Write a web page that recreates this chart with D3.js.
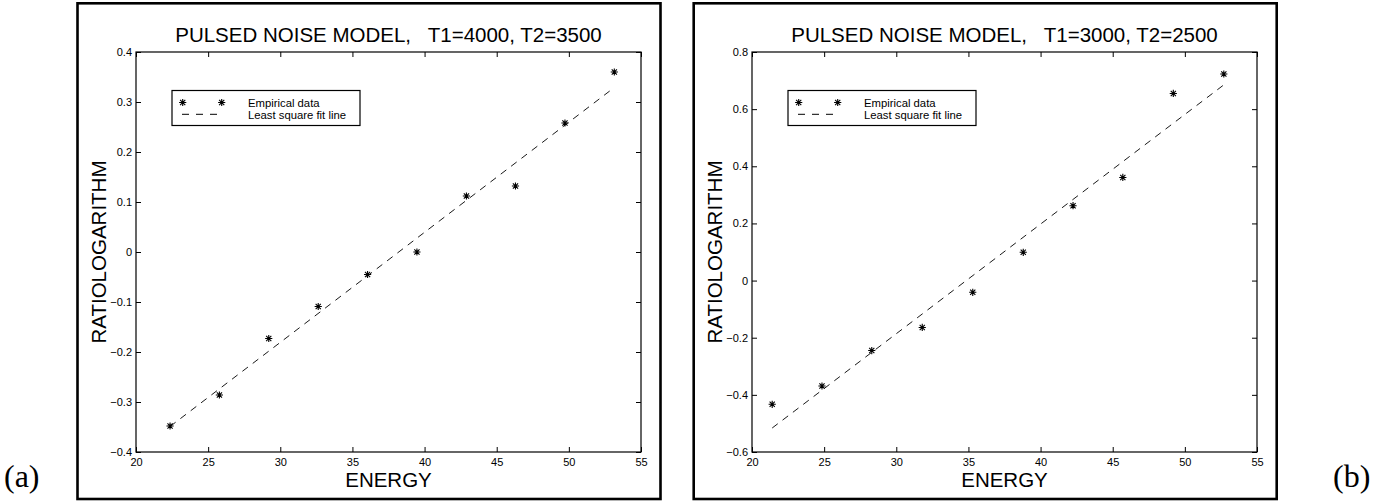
<!DOCTYPE html>
<html>
<head>
<meta charset="utf-8">
<script src="https://cdn.jsdelivr.net/npm/d3@7"></script>
<style>
  html, body { margin: 0; padding: 0; background: #fff; }
  svg { display: block; }
  text { font-family: "Liberation Sans", Arial, sans-serif; fill: #000; white-space: pre; }
  text.tag { font-family: "Liberation Serif", "DejaVu Serif", serif; }
</style>
</head>
<body>
<svg id="chart" width="1378" height="504"></svg>
<script>
// ---------- data ----------
const energyA = [22.36, 25.78, 29.2, 32.63, 36.05, 39.47, 42.9, 46.3, 49.73, 53.15];
const ratioA  = [-0.348, -0.286, -0.173, -0.109, -0.045, 0.0, 0.112, 0.132, 0.258, 0.36];
const fitEnergyA = [22.36, 53.15];
const fitRatioA  = [-0.349, 0.329];

const energyB = [21.4, 24.85, 28.3, 31.8, 35.3, 38.8, 42.25, 45.7, 49.2, 52.7];
const ratioB  = [-0.433, -0.369, -0.245, -0.164, -0.041, 0.099, 0.262, 0.361, 0.655, 0.723];
const fitEnergyB = [21.4, 52.7];
const fitRatioB  = [-0.516, 0.685];

const xTicks  = [20, 25, 30, 35, 40, 45, 50, 55];
const yTicksA = [-0.4, -0.3, -0.2, -0.1, 0, 0.1, 0.2, 0.3, 0.4];
const yTicksB = [-0.6, -0.4, -0.2, 0, 0.2, 0.4, 0.6, 0.8];

const titles = ["PULSED NOISE MODEL,   T1=4000, T2=3500", "PULSED NOISE MODEL,   T1=3000, T2=2500"];
const panelTags = ["(a)", "(b)"];
const xLabel = "ENERGY";
const yLabel = "RATIOLOGARITHM";
const legendLabels = ["Empirical data", "Least square fit line"];

// ---------- drawing ----------
const svg = d3.select("#chart");

const panels = [
  { left: 136, frameX: 77.5, energy: energyA, ratio: ratioA, fx: fitEnergyA, fy: fitRatioA,
    yDomain: [-0.4, 0.4], yTicks: yTicksA, title: titles[0], tag: panelTags[0], tagX: 4 },
  { left: 752, frameX: 693.7, energy: energyB, ratio: ratioB, fx: fitEnergyB, fy: fitRatioB,
    yDomain: [-0.6, 0.8], yTicks: yTicksB, title: titles[1], tag: panelTags[1], tagX: 1333 }
];

const W = 505, plotTop = 52, plotBottom = 452;
const fmt = d => d === 0 ? "0" : d3.format(".1f")(d);

function starPath(r) {
  const p = d3.path();
  const d = r * 0.72;
  p.moveTo(-r, 0); p.lineTo(r, 0);
  p.moveTo(0, -r); p.lineTo(0, r);
  p.moveTo(-d, -d); p.lineTo(d, d);
  p.moveTo(-d, d); p.lineTo(d, -d);
  return p.toString();
}
const star = starPath(3.6);

panels.forEach(P => {
  const g = svg.append("g");
  // outer frame
  g.append("rect")
    .attr("x", P.frameX).attr("y", 3.3)
    .attr("width", 583).attr("height", 495.7)
    .attr("fill", "none").attr("stroke", "#000").attr("stroke-width", 2.6);

  const x = d3.scaleLinear().domain([20, 55]).range([P.left, P.left + W]);
  const y = d3.scaleLinear().domain(P.yDomain).range([plotBottom, plotTop]);

  // axes (inward ticks)
  const ax = g.append("g").attr("transform", `translate(0,${plotBottom})`)
    .call(d3.axisBottom(x).tickValues(xTicks).tickSizeInner(-5).tickSizeOuter(0).tickPadding(6).tickFormat(d3.format("d")));
  const axT = g.append("g").attr("transform", `translate(0,${plotTop})`)
    .call(d3.axisTop(x).tickValues(xTicks).tickSizeInner(-5).tickSizeOuter(0).tickFormat(""));
  const ay = g.append("g").attr("transform", `translate(${P.left},0)`)
    .call(d3.axisLeft(y).tickValues(P.yTicks).tickSizeInner(-5).tickSizeOuter(0).tickPadding(4).tickFormat(fmt));
  const ayR = g.append("g").attr("transform", `translate(${P.left + W},0)`)
    .call(d3.axisRight(y).tickValues(P.yTicks).tickSizeInner(-5).tickSizeOuter(0).tickFormat(""));
  [ax, axT, ay, ayR].forEach(a => {
    a.select(".domain").remove();
    a.selectAll("line").attr("stroke", "#000").attr("stroke-width", 1);
    a.selectAll("text").attr("font-size", 11).attr("fill", "#000");
  });

  // plot box
  g.append("rect")
    .attr("x", P.left).attr("y", plotTop).attr("width", W).attr("height", plotBottom - plotTop)
    .attr("fill", "none").attr("stroke", "#000").attr("stroke-width", 1.2);

  // fit line
  const fitPts = P.fx.map((v, i) => [v, P.fy[i]]);
  g.append("path")
    .attr("d", d3.line().x(d => x(d[0])).y(d => y(d[1]))(fitPts))
    .attr("fill", "none").attr("stroke", "#000").attr("stroke-width", 0.9)
    .attr("stroke-dasharray", "7,6");

  // data stars
  g.selectAll("path.star").data(P.energy.map((v, i) => [v, P.ratio[i]])).join("path")
    .attr("class", "star")
    .attr("transform", d => `translate(${x(d[0])},${y(d[1])})`)
    .attr("d", star).attr("fill", "none").attr("stroke", "#000").attr("stroke-width", 1.1);

  // legend
  const lx = P.left + 36, ly = 90.5;
  const lg = g.append("g");
  lg.append("rect").attr("x", lx).attr("y", ly).attr("width", 188).attr("height", 35)
    .attr("fill", "#fff").attr("stroke", "#000").attr("stroke-width", 1.2);
  [lx + 10.7, lx + 49.7].forEach(sx => {
    lg.append("path").attr("transform", `translate(${sx},${ly + 12})`)
      .attr("d", star).attr("fill", "none").attr("stroke", "#000").attr("stroke-width", 1.1);
  });
  lg.append("line").attr("x1", lx + 10).attr("x2", lx + 45.5)
    .attr("y1", ly + 23.8).attr("y2", ly + 23.8)
    .attr("stroke", "#000").attr("stroke-width", 1).attr("stroke-dasharray", "7,7");
  lg.append("text").attr("x", lx + 76).attr("y", ly + 16.5).attr("font-size", 11.3).text(legendLabels[0]);
  lg.append("text").attr("x", lx + 76).attr("y", ly + 28).attr("font-size", 11.3).text(legendLabels[1]);

  // title and labels
  g.append("text").attr("x", P.left + W / 2).attr("y", 41.7).attr("text-anchor", "middle")
    .attr("xml:space", "preserve").attr("font-size", 20.5).text(P.title);
  g.append("text").attr("x", P.left + W / 2).attr("y", 487).attr("text-anchor", "middle")
    .attr("font-size", 20.5).text(xLabel);
  g.append("text").attr("transform", `translate(${P.left - 30},${(plotTop + plotBottom) / 2}) rotate(-90)`)
    .attr("text-anchor", "middle").attr("font-size", 20.5).text(yLabel);

  // panel tag
  g.append("text").attr("class", "tag").attr("x", P.tagX).attr("y", 487)
    .attr("font-size", 32).text(P.tag);
});
</script>
</body>
</html>
